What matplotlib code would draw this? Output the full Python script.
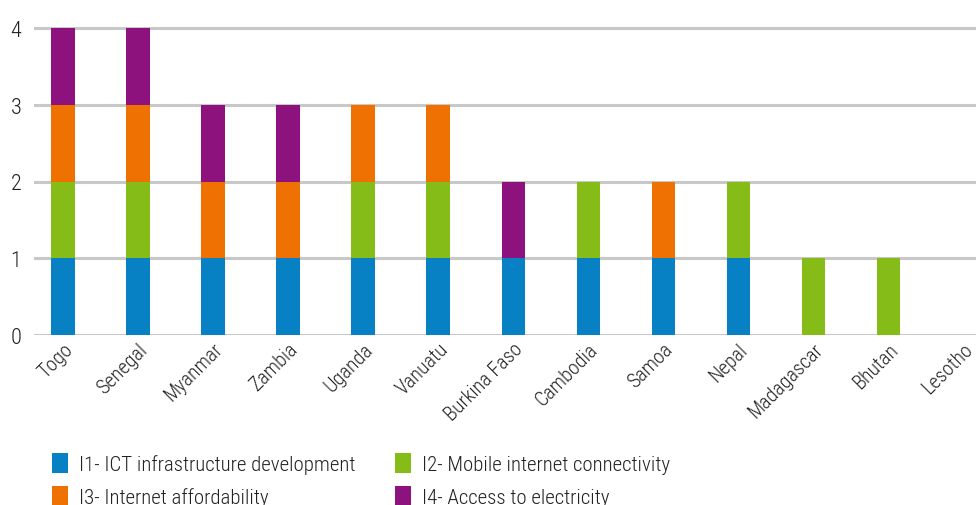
import matplotlib
matplotlib.use("Agg")
import matplotlib.pyplot as plt
from matplotlib.patches import Patch
from matplotlib import font_manager
import numpy as np

available = {f.name for f in font_manager.fontManager.ttflist}
preferred = ["Liberation Sans Narrow", "Roboto Condensed", "Open Sans Condensed",
             "Noto Sans Condensed", "Roboto", "Liberation Sans"]
base = next((f for f in preferred if f in available), "DejaVu Sans")
plt.rcParams['font.family'] = [base, 'DejaVu Sans']
plt.rcParams['font.weight'] = 'light'

countries = ["Togo", "Senegal", "Myanmar", "Zambia", "Uganda", "Vanuatu",
             "Burkina Faso", "Cambodia", "Samoa", "Nepal", "Madagascar",
             "Bhutan", "Lesotho"]
i1_infrastructure = [1, 1, 1, 1, 1, 1, 1, 1, 1, 1, 0, 0, 0]
i2_mobile = [1, 1, 0, 0, 1, 1, 0, 1, 0, 1, 1, 1, 0]
i3_affordability = [1, 1, 1, 1, 1, 1, 0, 0, 1, 0, 0, 0, 0]
i4_electricity = [1, 1, 1, 1, 0, 0, 1, 0, 0, 0, 0, 0, 0]
series_labels = ["I1- ICT infrastructure development",
                 "I2- Mobile internet connectivity",
                 "I3- Internet affordability",
                 "I4- Access to electricity"]
yticks = [0, 1, 2, 3, 4]

colors = ["#0780c4", "#86bc17", "#ef7102", "#8e127e"]
narrow = "Narrow" in base or "Condensed" in base
fs_tick = 14.5 if narrow else 12.5
fs_leg = 15 if narrow else 13.5

W, H = 976, 506
fig = plt.figure(figsize=(W / 100, H / 100), dpi=100)
x0, x1 = 34, 976
y_zero, y_four = 336, 29
ymax = 4.1
ppu = (y_zero - y_four) / 4.0
top_px = y_zero - ymax * ppu
ax = fig.add_axes([x0 / W, 1 - y_zero / H, (x1 - x0) / W, (y_zero - top_px) / H])

x = np.arange(len(countries))
series = [i1_infrastructure, i2_mobile, i3_affordability, i4_electricity]
bottom = np.zeros(len(countries))
for vals, c in zip(series, colors):
    v = np.array(vals, dtype=float)
    ax.bar(x, v, width=0.31, bottom=bottom, color=c, zorder=3)
    bottom += v

ax.set_xlim(-0.387, 12.17)
ax.set_ylim(0, ymax)
ax.set_yticks(yticks)
ax.set_yticklabels([str(t) for t in yticks], fontsize=16, color="#222222")
ax.yaxis.grid(True, color="#c8c8c8", linewidth=2.2, zorder=0)
ax.set_axisbelow(True)
ax.tick_params(axis="y", length=0, pad=9)
ax.tick_params(axis="x", length=0, pad=3)
ax.set_xticks(x)
ax.set_xticklabels(countries, rotation=45, ha="right", rotation_mode="anchor",
                   fontsize=fs_tick, color="#222222")
for s in ax.spines.values():
    s.set_visible(False)

handles = [Patch(facecolor=c, edgecolor="none") for c in colors]
order = [0, 2, 1, 3]
fig.legend([handles[i] for i in order], [series_labels[i] for i in order],
           ncol=2, loc="upper left", bbox_to_anchor=(33 / W, 1 - 435 / H),
           frameon=False, fontsize=fs_leg, handlelength=0.8, handleheight=1.1,
           handletextpad=0.5, columnspacing=1.9, labelspacing=0.6,
           labelcolor="#222222")

fig.savefig("out.png", dpi=100)
